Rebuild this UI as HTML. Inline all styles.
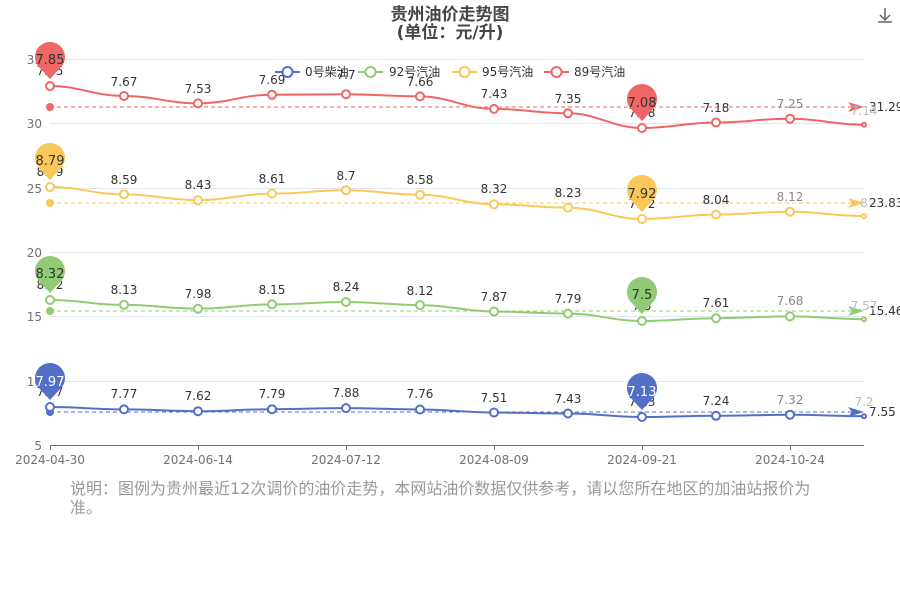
<!DOCTYPE html>
<html><head><meta charset="utf-8"><style>
body{margin:0;background:#fff;width:900px;height:600px;overflow:hidden}
svg{font-family:"DejaVu Sans","Noto Sans CJK SC",sans-serif}
</style></head><body>
<svg width="900" height="600" viewBox="0 0 900 600" xmlns="http://www.w3.org/2000/svg">
<text x="450" y="20" text-anchor="middle" font-size="17" font-weight="bold" fill="#464646">贵州油价走势图</text>
<text x="450" y="38" text-anchor="middle" font-size="17" font-weight="bold" fill="#464646">(单位：元/升)</text>
<g stroke="#666" fill="none" stroke-width="1.5"><path d="M885 8v12M880 15l5 5 5-5"/><path d="M878 22h14"/></g>
<g stroke="#e0e6f1" stroke-width="1">
<line x1="50" x2="864" y1="59.5" y2="59.5"/><line x1="50" x2="864" y1="123.5" y2="123.5"/><line x1="50" x2="864" y1="188.5" y2="188.5"/><line x1="50" x2="864" y1="252.5" y2="252.5"/><line x1="50" x2="864" y1="316.5" y2="316.5"/><line x1="50" x2="864" y1="381.5" y2="381.5"/>
</g>
<line x1="50" x2="864" y1="445.5" y2="445.5" stroke="#6e7079"/>
<g stroke="#6e7079"><line x1="50.5" x2="50.5" y1="445" y2="450"/><line x1="198.5" x2="198.5" y1="445" y2="450"/><line x1="346.5" x2="346.5" y1="445" y2="450"/><line x1="494.5" x2="494.5" y1="445" y2="450"/><line x1="642.5" x2="642.5" y1="445" y2="450"/><line x1="790.5" x2="790.5" y1="445" y2="450"/></g>
<g font-size="12" fill="#6e7079" text-anchor="end">
<text x="42" y="64">35</text><text x="42" y="128">30</text><text x="42" y="193">25</text><text x="42" y="257">20</text><text x="42" y="321">15</text><text x="42" y="386">10</text><text x="42" y="450">5</text></g>
<g font-size="12" fill="#6e7079" text-anchor="middle">
<text x="50" y="464">2024-04-30</text><text x="198" y="464">2024-06-14</text><text x="346" y="464">2024-07-12</text><text x="494" y="464">2024-08-09</text><text x="642" y="464">2024-09-21</text><text x="790" y="464">2024-10-24</text></g>
<g stroke-dasharray="4,3" stroke-width="1">
<line x1="50" x2="852" y1="107" y2="107" stroke="#ee6666"/>
<line x1="50" x2="852" y1="203" y2="203" stroke="#fac858"/>
<line x1="50" x2="852" y1="311" y2="311" stroke="#91cc75"/>
<line x1="50" x2="852" y1="412" y2="412" stroke="#5470c6"/>
</g>
<circle cx="50" cy="107" r="4" fill="#ee6666"/><circle cx="50" cy="203" r="4" fill="#fac858"/><circle cx="50" cy="311" r="4" fill="#91cc75"/><circle cx="50" cy="412" r="4" fill="#5470c6"/>
<path d="M848 102l16 5-16 5 4-5z" fill="#ee6666"/><path d="M848 198l16 5-16 5 4-5z" fill="#fac858"/><path d="M848 306l16 5-16 5 4-5z" fill="#91cc75"/><path d="M848 407l16 5-16 5 4-5z" fill="#5470c6"/>
<g font-size="12" fill="#333"><text x="869" y="111">31.29</text><text x="869" y="207">23.83</text><text x="869" y="315">15.46</text><text x="869" y="416">7.55</text></g>
<g fill="none" stroke-width="2">
<path stroke="#ee6666" d="M50,86 C80,86 94,96 124,96 C154,96 168,103.4 198,103.4 C228,103.4 242,94.7 272,94.7 C302,94.7 316,94.2 346,94.2 C376,94.2 390,96.4 420,96.4 C450,96.4 464,108.9 494,108.9 C524,108.9 538,113.3 568,113.3 C598,113.3 612,128 642,128 C672,128 686,122.5 716,122.5 C746,122.5 760,118.7 790,118.7 C820,118.7 834,124.7 864,124.7"/>
<path stroke="#fac858" d="M50,187 C80,187 94,194.4 124,194.4 C154,194.4 168,200.2 198,200.2 C228,200.2 242,193.6 272,193.6 C302,193.6 316,190.3 346,190.3 C376,190.3 390,194.7 420,194.7 C450,194.7 464,204.3 494,204.3 C524,204.3 538,207.6 568,207.6 C598,207.6 612,219 642,219 C672,219 686,214.6 716,214.6 C746,214.6 760,211.7 790,211.7 C820,211.7 834,216.1 864,216.1"/>
<path stroke="#91cc75" d="M50,300 C80,300 94,304.9 124,304.9 C154,304.9 168,308.7 198,308.7 C228,308.7 242,304.4 272,304.4 C302,304.4 316,302 346,302 C376,302 390,305.1 420,305.1 C450,305.1 464,311.5 494,311.5 C524,311.5 538,313.6 568,313.6 C598,313.6 612,321 642,321 C672,321 686,318.2 716,318.2 C746,318.2 760,316.4 790,316.4 C820,316.4 834,319.2 864,319.2"/>
<path stroke="#5470c6" d="M50,407 C80,407 94,409.4 124,409.4 C154,409.4 168,411.2 198,411.2 C228,411.2 242,409.2 272,409.2 C302,409.2 316,408.1 346,408.1 C376,408.1 390,409.5 420,409.5 C450,409.5 464,412.5 494,412.5 C524,412.5 538,413.5 568,413.5 C598,413.5 612,417 642,417 C672,417 686,415.8 716,415.8 C746,415.8 760,414.8 790,414.8 C820,414.8 834,416.2 864,416.2"/>
</g>
<g fill="#fff" stroke-width="2">
<g stroke="#ee6666"><circle cx="50" cy="86" r="4"/><circle cx="124" cy="96" r="4"/><circle cx="198" cy="103.4" r="4"/><circle cx="272" cy="94.7" r="4"/><circle cx="346" cy="94.2" r="4"/><circle cx="420" cy="96.4" r="4"/><circle cx="494" cy="108.9" r="4"/><circle cx="568" cy="113.3" r="4"/><circle cx="642" cy="128" r="4"/><circle cx="716" cy="122.5" r="4"/><circle cx="790" cy="118.7" r="4"/><circle cx="864" cy="124.7" r="2"/></g>
<g stroke="#fac858"><circle cx="50" cy="187" r="4"/><circle cx="124" cy="194.4" r="4"/><circle cx="198" cy="200.2" r="4"/><circle cx="272" cy="193.6" r="4"/><circle cx="346" cy="190.3" r="4"/><circle cx="420" cy="194.7" r="4"/><circle cx="494" cy="204.3" r="4"/><circle cx="568" cy="207.6" r="4"/><circle cx="642" cy="219" r="4"/><circle cx="716" cy="214.6" r="4"/><circle cx="790" cy="211.7" r="4"/><circle cx="864" cy="216.1" r="2"/></g>
<g stroke="#91cc75"><circle cx="50" cy="300" r="4"/><circle cx="124" cy="304.9" r="4"/><circle cx="198" cy="308.7" r="4"/><circle cx="272" cy="304.4" r="4"/><circle cx="346" cy="302" r="4"/><circle cx="420" cy="305.1" r="4"/><circle cx="494" cy="311.5" r="4"/><circle cx="568" cy="313.6" r="4"/><circle cx="642" cy="321" r="4"/><circle cx="716" cy="318.2" r="4"/><circle cx="790" cy="316.4" r="4"/><circle cx="864" cy="319.2" r="2"/></g>
<g stroke="#5470c6"><circle cx="50" cy="407" r="4"/><circle cx="124" cy="409.4" r="4"/><circle cx="198" cy="411.2" r="4"/><circle cx="272" cy="409.2" r="4"/><circle cx="346" cy="408.1" r="4"/><circle cx="420" cy="409.5" r="4"/><circle cx="494" cy="412.5" r="4"/><circle cx="568" cy="413.5" r="4"/><circle cx="642" cy="417" r="4"/><circle cx="716" cy="415.8" r="4"/><circle cx="790" cy="414.8" r="4"/><circle cx="864" cy="416.2" r="2"/></g>
</g>
<g font-size="12" fill="#333" text-anchor="middle">
<text x="50" y="75">7.85</text><text x="124" y="86">7.67</text><text x="198" y="93">7.53</text><text x="272" y="84">7.69</text><text x="346" y="79">7.7</text><text x="420" y="86">7.66</text><text x="494" y="98">7.43</text><text x="568" y="103">7.35</text><text x="642" y="117">7.08</text><text x="716" y="112">7.18</text><text x="790" y="108" fill="#888">7.25</text><text x="864" y="115" fill="#bbb">7.14</text>
<text x="50" y="176">8.79</text><text x="124" y="184">8.59</text><text x="198" y="189">8.43</text><text x="272" y="183">8.61</text><text x="346" y="180">8.7</text><text x="420" y="184">8.58</text><text x="494" y="193">8.32</text><text x="568" y="197">8.23</text><text x="642" y="208">7.92</text><text x="716" y="204">8.04</text><text x="790" y="201" fill="#888">8.12</text><text x="864" y="207" fill="#bbb">8</text>
<text x="50" y="289">8.32</text><text x="124" y="294">8.13</text><text x="198" y="298">7.98</text><text x="272" y="294">8.15</text><text x="346" y="291">8.24</text><text x="420" y="295">8.12</text><text x="494" y="301">7.87</text><text x="568" y="303">7.79</text><text x="642" y="310">7.5</text><text x="716" y="307">7.61</text><text x="790" y="305" fill="#888">7.68</text><text x="864" y="310" fill="#bbb">7.57</text>
<text x="50" y="396">7.97</text><text x="124" y="398">7.77</text><text x="198" y="400">7.62</text><text x="272" y="398">7.79</text><text x="346" y="397">7.88</text><text x="420" y="398">7.76</text><text x="494" y="402">7.51</text><text x="568" y="403">7.43</text><text x="642" y="406">7.13</text><text x="716" y="405">7.24</text><text x="790" y="404" fill="#888">7.32</text><text x="864" y="406" fill="#bbb">7.2</text>
</g>
<g font-size="13" text-anchor="middle">
<path d="M50,79 L38,66 A15,15 0 1 1 62,66 Z" fill="#ee6666"/><text x="50" y="64" fill="#333">7.85</text>
<path d="M642,121 L630,108 A15,15 0 1 1 654,108 Z" fill="#ee6666"/><text x="642" y="107" fill="#333">7.08</text>
<path d="M50,180 L38,167 A15,15 0 1 1 62,167 Z" fill="#fac858"/><text x="50" y="165" fill="#333">8.79</text>
<path d="M642,212 L630,199 A15,15 0 1 1 654,199 Z" fill="#fac858"/><text x="642" y="198" fill="#333">7.92</text>
<path d="M50,293 L38,280 A15,15 0 1 1 62,280 Z" fill="#91cc75"/><text x="50" y="278" fill="#333">8.32</text>
<path d="M642,314 L630,301 A15,15 0 1 1 654,301 Z" fill="#91cc75"/><text x="642" y="299" fill="#333">7.5</text>
<path d="M50,400 L38,387 A15,15 0 1 1 62,387 Z" fill="#5470c6"/><text x="50" y="386" fill="#fff">7.97</text>
<path d="M642,410 L630,397 A15,15 0 1 1 654,397 Z" fill="#5470c6"/><text x="642" y="396" fill="#fff">7.13</text>
</g>
<g font-size="12" fill="#333" stroke-width="2">
<line x1="275" x2="300" y1="72" y2="72" stroke="#5470c6"/><circle cx="287.5" cy="72" r="5" fill="#fff" stroke="#5470c6"/><text x="305" y="76">0号柴油</text>
<line x1="358" x2="383" y1="72" y2="72" stroke="#91cc75"/><circle cx="370.5" cy="72" r="5" fill="#fff" stroke="#91cc75"/><text x="389" y="76">92号汽油</text>
<line x1="452" x2="477" y1="72" y2="72" stroke="#fac858"/><circle cx="464.5" cy="72" r="5" fill="#fff" stroke="#fac858"/><text x="482" y="76">95号汽油</text>
<line x1="544" x2="569" y1="72" y2="72" stroke="#ee6666"/><circle cx="556.5" cy="72" r="5" fill="#fff" stroke="#ee6666"/><text x="574" y="76">89号汽油</text>
</g>
<g font-size="16" fill="#999">
<text x="70" y="494">说明：图例为贵州最近12次调价的油价走势，本网站油价数据仅供参考，请以您所在地区的加油站报价为</text>
<text x="70" y="513">准。</text>
</g>
</svg>
</body></html>
